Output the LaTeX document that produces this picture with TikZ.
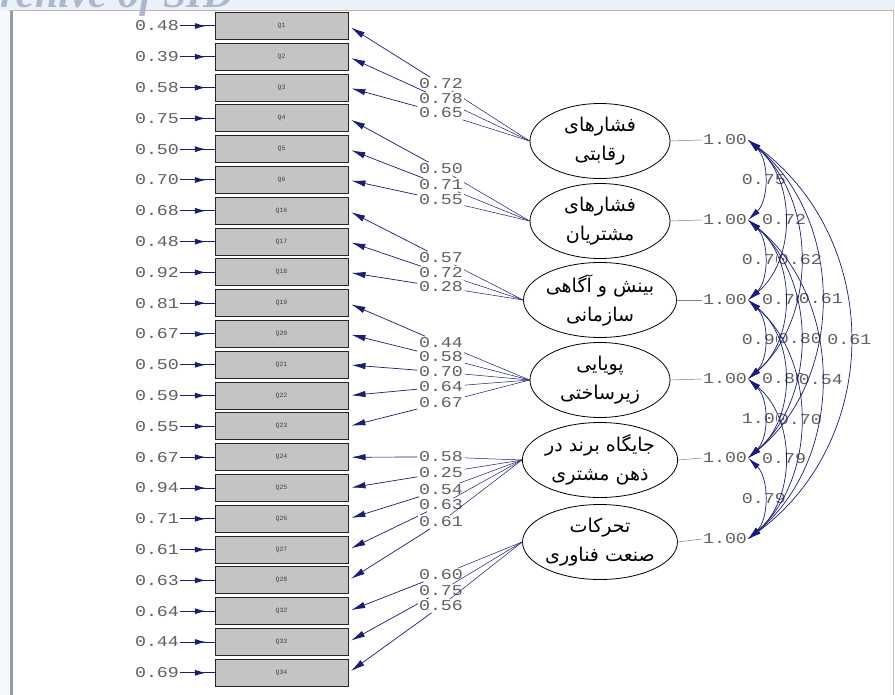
\documentclass[tikz,border=0pt]{standalone}
\usepackage{fontspec}
\usepackage{graphicx}
\usetikzlibrary{arrows.meta,decorations.markings,calc,shapes.geometric}
\TeXXeTstate=1
\newfontfamily\monof{Liberation Mono}
\newfontfamily\arabicfont[Script=Arabic]{DejaVu Sans}
\newfontfamily\wmfont{Liberation Serif}
\definecolor{arrowc}{HTML}{1A1A80}
\definecolor{numc}{HTML}{606060}
\definecolor{boxc}{HTML}{C4C4C4}
\definecolor{wmc}{HTML}{AEB8CC}
\definecolor{framec}{HTML}{9A9A9A}
\definecolor{bandc}{HTML}{EAF1F8}
\newcommand\numtxt[1]{\scalebox{1.22}[1]{#1}}
\tikzset{
  numfont/.style={font=\monof\fontsize{15}{15}\selectfont, text=numc},
  qbox/.style={rectangle, draw=black!85, line width=1pt, fill=boxc, minimum width=133pt, minimum height=27pt, inner sep=0pt, font=\monof\fontsize{6.5}{6.5}\selectfont, text=black!75},
  errlab/.style={numfont, inner sep=1pt},
  loadlab/.style={numfont, fill=white, inner sep=1.5pt},
  varlab/.style={numfont, inner sep=1pt},
  corrlab/.style={numfont, fill=white, inner sep=0.5pt},
  factor/.style={ellipse, draw=black, line width=0.8pt, fill=white, minimum width=140pt, minimum height=75pt, inner sep=0pt, align=center, font=\arabicfont\fontsize{19}{29}\selectfont},
  errarr/.style={draw=arrowc, line width=1pt, postaction={decorate}, decoration={markings, mark=at position 0.75 with {\arrow{Latex[length=11pt,width=6pt]}}}},
  loadarr/.style={draw=arrowc, line width=0.7pt, -{Latex[length=14pt,width=6.5pt]}, shorten >=3pt},
  faclink/.style={draw=arrowc, line width=0.5pt},
  varlink/.style={draw=gray, line width=0.5pt},
  corrarr/.style={draw=arrowc, line width=0.7pt, {Latex[length=13pt,width=6pt]}-{Latex[length=13pt,width=6pt]}},
}
\begin{document}
\begin{tikzpicture}[x=1pt,y=-1pt]
\useasboundingbox (0,0) rectangle (895,695);
% background and frame
\fill[white] (0,0) rectangle (895,695);
\fill[bandc] (0,0) rectangle (895,10);
\fill[bandc!50] (0,10) rectangle (9,695);
\draw[framec!70, line width=1pt] (9,10.5) -- (893,10.5);
\draw[framec!60, line width=1pt] (893,10) -- (893,695);
\draw[framec, line width=3.5pt] (11.5,11) -- (11.5,695);
\node[anchor=base west, inner sep=0pt, text=wmc, font=\wmfont\bfseries\itshape\fontsize{42}{42}\selectfont] (wm) at (-28,8) {Archive of SID};

% observed variables and error terms
\foreach \lab/\err [count=\k] in {Q1/0.48, Q2/0.39, Q3/0.58, Q4/0.75, Q5/0.50, Q6/0.70, Q16/0.68, Q17/0.48, Q18/0.92, Q19/0.81, Q20/0.67, Q21/0.50, Q22/0.59, Q23/0.55, Q24/0.67, Q25/0.94, Q26/0.71, Q27/0.61, Q28/0.63, Q32/0.64, Q33/0.44, Q34/0.69}{
  \pgfmathsetmacro\yy{26+30.8*(\k-1)}
  \node[qbox] (b\k) at (281.5,\yy) {\lab};
  \node[errlab] (e\k) at (157,\yy) {\numtxt{\err}};
  \draw[errarr] (e\k.east) -- (b\k.west);
}

% latent factors
\node[factor] (f1) at (600,141) {\beginR فشارهای\endR\\\beginR رقابتی\endR};
\node[factor] (f2) at (600,221) {\beginR فشارهای\endR\\\beginR مشتریان\endR};
\node[factor] (f3) at (600,300) {\beginR بینش و آگاهی\endR\\\beginR سازمانی\endR};
\node[factor] (f4) at (600,380) {\beginR پویایی\endR\\\beginR زیرساختی\endR};
\node[factor] (f5) at (600,460) {\beginR جایگاه برند در\endR\\\beginR ذهن مشتری\endR};
\node[factor] (f6) at (600,542) {\beginR تحرکات\endR\\\beginR صنعت فناوری\endR};

% variances
\foreach \i/\yy in {1/140,2/220,3/300,4/379,5/458,6/539}{
  \node[varlab] (v\i) at (725,\yy) {\numtxt{1.00}};
  \draw[varlink] (f\i.east) -- (v\i.west);
}

% loadings
\foreach \f/\k/\val/\yy in {1/1/0.72/84, 1/2/0.78/99, 1/3/0.65/113, 2/4/0.50/169, 2/5/0.71/185, 2/6/0.55/200, 3/7/0.57/258, 3/8/0.72/273, 3/9/0.28/287, 4/10/0.44/343, 4/11/0.58/357, 4/12/0.70/372, 4/13/0.64/387, 4/14/0.67/403, 5/15/0.58/457, 5/16/0.25/473, 5/17/0.54/490, 5/18/0.63/505, 5/19/0.61/522, 6/20/0.60/575, 6/21/0.75/591, 6/22/0.56/606}{
  \node[loadlab] (l\k) at (441,\yy) {\numtxt{\val}};
  \draw[faclink] (f\f.west) -- (l\k);
  \draw[loadarr] (l\k) -- (b\k.east);
}

% correlation labels (ascending distance so later ones overlap earlier ones)
\foreach \i/\j/\off/\val in {1/2/21/0.75, 2/3/21/0.70, 3/4/21/0.90, 4/5/21/1.00, 5/6/21/0.79,
                            1/3/48/0.72, 2/4/48/0.70, 3/5/48/0.80, 4/6/48/0.79,
                            1/4/69/0.62, 2/5/69/0.80, 3/6/69/0.70,
                            1/5/97/0.61, 2/6/97/0.54,
                            1/6/135/0.61}{
  \pgfmathsetmacro\dd{20*(\j-\i)}
  \path (v\i.east) .. controls +(\off,\dd) and +(\off,-\dd) .. (v\j.east) node[corrlab, pos=0.5] (c\i\j) {\numtxt{\val}};
}
% correlation arcs
\foreach \i/\j/\off in {1/2/21, 2/3/21, 3/4/21, 4/5/21, 5/6/21, 1/3/48, 2/4/48, 3/5/48, 4/6/48, 1/4/69, 2/5/69, 3/6/69, 1/5/97, 2/6/97, 1/6/135}{
  \pgfmathsetmacro\dd{20*(\j-\i)}
  \draw[corrarr] (v\i.east) .. controls +(\off,\dd) and +(\off,-\dd) .. (v\j.east);
}
\end{tikzpicture}
\end{document}
